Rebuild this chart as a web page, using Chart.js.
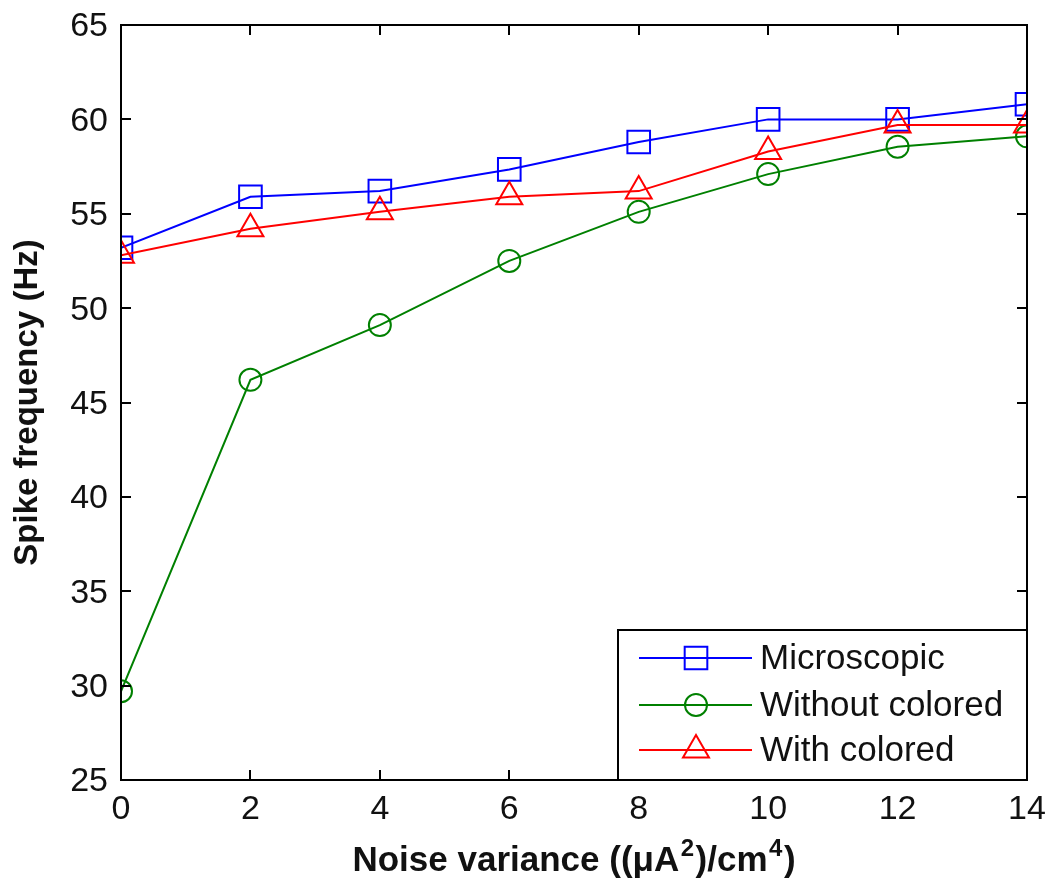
<!DOCTYPE html>
<html><head><meta charset="utf-8">
<script src="https://cdn.jsdelivr.net/npm/chart.js@4/dist/chart.umd.min.js"></script>
<style>html,body{margin:0;padding:0;background:#fff}#c{display:block}</style>
</head><body>
<canvas id="c" width="1056" height="882"></canvas>
<script>
const noiseVariance = [0, 2, 4, 6, 8, 10, 12, 14];
const microscopic = [53.2, 55.9, 56.2, 57.35, 58.8, 60.0, 60.0, 60.8];
const withoutColored = [29.7, 46.2, 49.1, 52.5, 55.1, 57.1, 58.55, 59.1];
const withColored = [52.8, 54.2, 55.1, 55.9, 56.2, 58.3, 59.7, 59.7];
const seriesNames = ['Microscopic', 'Without colored', 'With colored'];
// x title pieces: [text, isSuperscript]
const xTitleParts = [['Noise variance ((\u03BCA', false], ['2', true], [')/cm', false], ['4', true], [')', false]];
const yTitle = 'Spike frequency (Hz)';

const FONT = "'Liberation Sans', Arial, sans-serif";
const pts = arr => arr.map((v, i) => ({x: noiseVariance[i], y: v}));

const framePlugin = {
  id: 'frame',
  afterDraw(chart) {
    const {ctx, chartArea: a, scales} = chart;
    ctx.save();
    ctx.strokeStyle = '#000';
    ctx.lineWidth = 2;
    const tl = 10;
    ctx.beginPath();
    scales.x.ticks.forEach(t => {
      const px = Math.round(scales.x.getPixelForValue(t.value));
      ctx.moveTo(px, a.bottom); ctx.lineTo(px, a.bottom - tl);
      ctx.moveTo(px, a.top); ctx.lineTo(px, a.top + tl);
    });
    scales.y.ticks.forEach(t => {
      const py = Math.round(scales.y.getPixelForValue(t.value));
      ctx.moveTo(a.left, py); ctx.lineTo(a.left + tl, py);
      ctx.moveTo(a.right, py); ctx.lineTo(a.right - tl, py);
    });
    ctx.stroke();
    ctx.strokeRect(a.left, a.top, a.right - a.left, a.bottom - a.top);

    // legend
    const lx = 618, ly = 630, lw = a.right - lx, lh = a.bottom - ly;
    ctx.fillStyle = '#fff';
    ctx.fillRect(lx, ly, lw, lh);
    ctx.strokeRect(lx, ly, lw, lh);
    const rows = [658, 705, 750];
    chart.data.datasets.forEach((ds, i) => {
      const y = rows[i];
      ctx.strokeStyle = ds.borderColor;
      ctx.lineWidth = 2;
      ctx.beginPath(); ctx.moveTo(639, y); ctx.lineTo(752, y); ctx.stroke();
      ctx.fillStyle = 'rgba(0,0,0,0)';
      Chart.helpers.drawPoint(ctx, {pointStyle: ds.pointStyle, radius: ds.pointRadius, rotation: 0, borderWidth: 2}, 696, y);
      ctx.fillStyle = '#111';
      ctx.font = '35px ' + FONT;
      ctx.textBaseline = 'middle';
      ctx.textAlign = 'left';
      ctx.fillText(ds.label, 760, y + 1);
    });

    // x axis title with superscripts
    ctx.fillStyle = '#111';
    ctx.textBaseline = 'alphabetic';
    ctx.textAlign = 'left';
    const mainFont = 'bold 35px ' + FONT, supFont = 'bold 24px ' + FONT;
    let total = 0;
    xTitleParts.forEach(([t, sup]) => { ctx.font = sup ? supFont : mainFont; total += ctx.measureText(t).width + (sup ? 3 : 0); });
    let x = (a.left + a.right) / 2 - total / 2;
    const base = 871;
    xTitleParts.forEach(([t, sup]) => {
      ctx.font = sup ? supFont : mainFont;
      if (sup) x += 1.5;
      ctx.fillText(t, x, sup ? base - 15 : base);
      x += ctx.measureText(t).width + (sup ? 1.5 : 0);
    });

    // y axis title
    ctx.font = 'bold 33px ' + FONT;
    ctx.textAlign = 'center';
    ctx.textBaseline = 'middle';
    ctx.save();
    ctx.translate(28, (a.top + a.bottom) / 2);
    ctx.rotate(-Math.PI / 2);
    ctx.fillText(yTitle, 0, 0);
    ctx.restore();
    ctx.restore();
  }
};

new Chart(document.getElementById('c'), {
  type: 'line',
  data: {
    datasets: [
      {label: seriesNames[0], data: pts(microscopic), borderColor: '#0000ff', pointStyle: 'rect', pointRadius: 16, order: 3},
      {label: seriesNames[1], data: pts(withoutColored), borderColor: '#008000', pointStyle: 'circle', pointRadius: 11, order: 2},
      {label: seriesNames[2], data: pts(withColored), borderColor: '#ff0000', pointStyle: 'triangle', pointRadius: 15, order: 1}
    ].map(d => Object.assign(d, {borderWidth: 2, pointBorderWidth: 2, pointBackgroundColor: 'rgba(0,0,0,0)', pointBorderColor: d.borderColor, pointHoverRadius: d.pointRadius, tension: 0, fill: false}))
  },
  options: {
    responsive: false,
    animation: false,
    events: [],
    layout: {padding: {top: 25, right: 29, left: 0, bottom: 0}},
    plugins: {legend: {display: false}, tooltip: {enabled: false}},
    scales: {
      x: {
        type: 'linear', min: 0, max: 14,
        grid: {display: false, drawTicks: false},
        border: {display: false},
        ticks: {stepSize: 2, color: '#111', padding: 9, font: {family: FONT, size: 34}},
        afterFit(s) { s.height = 102; s.paddingLeft = 0; s.paddingRight = 0; }
      },
      y: {
        min: 25, max: 65,
        grid: {display: false, drawTicks: false},
        border: {display: false},
        ticks: {stepSize: 5, color: '#111', padding: 13, labelOffset: 2, font: {family: FONT, size: 34}},
        afterFit(s) { s.width = 121; s.paddingTop = 0; s.paddingBottom = 0; }
      }
    }
  },
  plugins: [framePlugin]
});
</script>
</body></html>
